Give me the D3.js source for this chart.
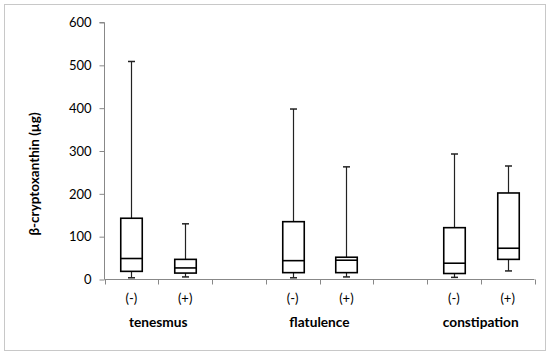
<!DOCTYPE html>
<html>
<head>
<meta charset="utf-8">
<script src="https://cdn.jsdelivr.net/npm/d3@7/dist/d3.min.js"></script>
<style>
  html, body { margin: 0; padding: 0; background: #fff; }
  svg { display: block; }
  text { font-family: Lato, "Open Sans", sans-serif; fill: #000; }
</style>
</head>
<body>
<svg id="chart" width="550" height="356"></svg>
<script>
// ---- data ----
const groups = ["tenesmus", "flatulence", "constipation"];
const signs = ["(-)", "(+)"];
// order: tenesmus(-), tenesmus(+), flatulence(-), flatulence(+), constipation(-), constipation(+)
const mins    = [4, 6, 4, 6, 5, 20];
const q1s     = [19, 15, 16, 16, 14, 47];
const medians = [49, 27, 44, 45, 38, 73];
const q3s     = [143, 47, 135, 52, 121, 202];
const maxs    = [509, 130, 398, 263, 293, 265];
const yTicks  = [0, 100, 200, 300, 400, 500, 600];
const yTitle  = "β-cryptoxanthin (µg)";

// ---- layout ----
const svg = d3.select("#chart");
const mLeft = 104.5, mRight = 534.5, mTop = 22.5, mBottom = 279.5;

// 8 slots: two per group plus an empty spacer between groups
const slots = [];
groups.forEach((g, gi) => {
  signs.forEach((s, si) => slots.push({ key: g + s, group: g, sign: s, idx: gi * 2 + si }));
  if (gi < groups.length - 1) slots.push({ key: "gap" + gi, gap: true });
});

const x = d3.scaleBand().domain(slots.map(d => d.key)).range([mLeft, mRight]).padding(0);
const y = d3.scaleLinear().domain([0, 600]).range([mBottom, mTop]);

// outer border
svg.append("rect").attr("x", 4.5).attr("y", 4.5).attr("width", 541).attr("height", 346)
  .attr("fill", "none").attr("stroke", "#c8c8c8").attr("stroke-width", 1);

// y axis
const yAxis = d3.axisLeft(y).tickValues(yTicks).tickSize(5).tickPadding(8);
const gy = svg.append("g").attr("transform", `translate(${mLeft},0)`).call(yAxis);
gy.select(".domain").attr("stroke", "#888").attr("d", `M-5,${y(600)}H0V${y(0)}`);
gy.selectAll(".tick line").attr("stroke", "#888");
gy.selectAll(".tick text").style("font-size", "13px").style("font-family", "Lato, sans-serif").attr("fill", "#000");

// x axis line and boundary ticks
const gx = svg.append("g");
gx.append("line").attr("x1", mLeft).attr("x2", mRight).attr("y1", mBottom).attr("y2", mBottom).attr("stroke", "#888");
const bounds = slots.map(d => x(d.key)).concat([x(slots[slots.length - 1].key) + x.bandwidth()]);
gx.selectAll("line.tk").data(bounds).join("line").attr("class", "tk")
  .attr("x1", d => Math.round(d) + 0.5).attr("x2", d => Math.round(d) + 0.5)
  .attr("y1", mBottom).attr("y2", mBottom + 5).attr("stroke", "#888");

// sign labels
const real = slots.filter(d => !d.gap);
svg.selectAll("text.sign").data(real).join("text").attr("class", "sign")
  .attr("x", d => x(d.key) + x.bandwidth() / 2).attr("y", 303)
  .attr("text-anchor", "middle").style("font-size", "13px").text(d => d.sign);

// group labels
svg.selectAll("text.grp").data(groups).join("text").attr("class", "grp")
  .attr("x", g => (x(g + signs[0]) + x(g + signs[1]) + x.bandwidth()) / 2).attr("y", 327)
  .attr("text-anchor", "middle").style("font-size", "13.7px").style("font-weight", "bold").text(g => g);

// y title
svg.append("text").attr("transform", `translate(39,174) rotate(-90)`)
  .attr("text-anchor", "middle").style("font-size", "13.5px").style("font-weight", "bold").text(yTitle);

// boxes
const bw = x.bandwidth() * 0.4, cap = 7;
const gb = svg.append("g");
real.forEach(d => {
  const i = d.idx;
  const cx = Math.round(x(d.key) + x.bandwidth() / 2) + 0.5;
  const g = gb.append("g");
  // whiskers
  g.append("line").attr("x1", cx).attr("x2", cx).attr("y1", y(q3s[i])).attr("y2", y(maxs[i])).attr("stroke", "#222").attr("stroke-width", 1.2);
  g.append("line").attr("x1", cx).attr("x2", cx).attr("y1", y(q1s[i])).attr("y2", y(mins[i])).attr("stroke", "#222").attr("stroke-width", 1.2);
  g.append("line").attr("x1", cx - cap / 2).attr("x2", cx + cap / 2).attr("y1", y(maxs[i])).attr("y2", y(maxs[i])).attr("stroke", "#222").attr("stroke-width", 1.5);
  g.append("line").attr("x1", cx - cap / 2).attr("x2", cx + cap / 2).attr("y1", y(mins[i])).attr("y2", y(mins[i])).attr("stroke", "#222").attr("stroke-width", 1.5);
  // box
  g.append("rect").attr("x", cx - bw / 2).attr("y", y(q3s[i])).attr("width", bw).attr("height", y(q1s[i]) - y(q3s[i]))
    .attr("fill", "#fff").attr("stroke", "#000").attr("stroke-width", 1.6);
  g.append("line").attr("x1", cx - bw / 2).attr("x2", cx + bw / 2).attr("y1", y(medians[i])).attr("y2", y(medians[i]))
    .attr("stroke", "#000").attr("stroke-width", 1.6);
});
</script>
</body>
</html>
